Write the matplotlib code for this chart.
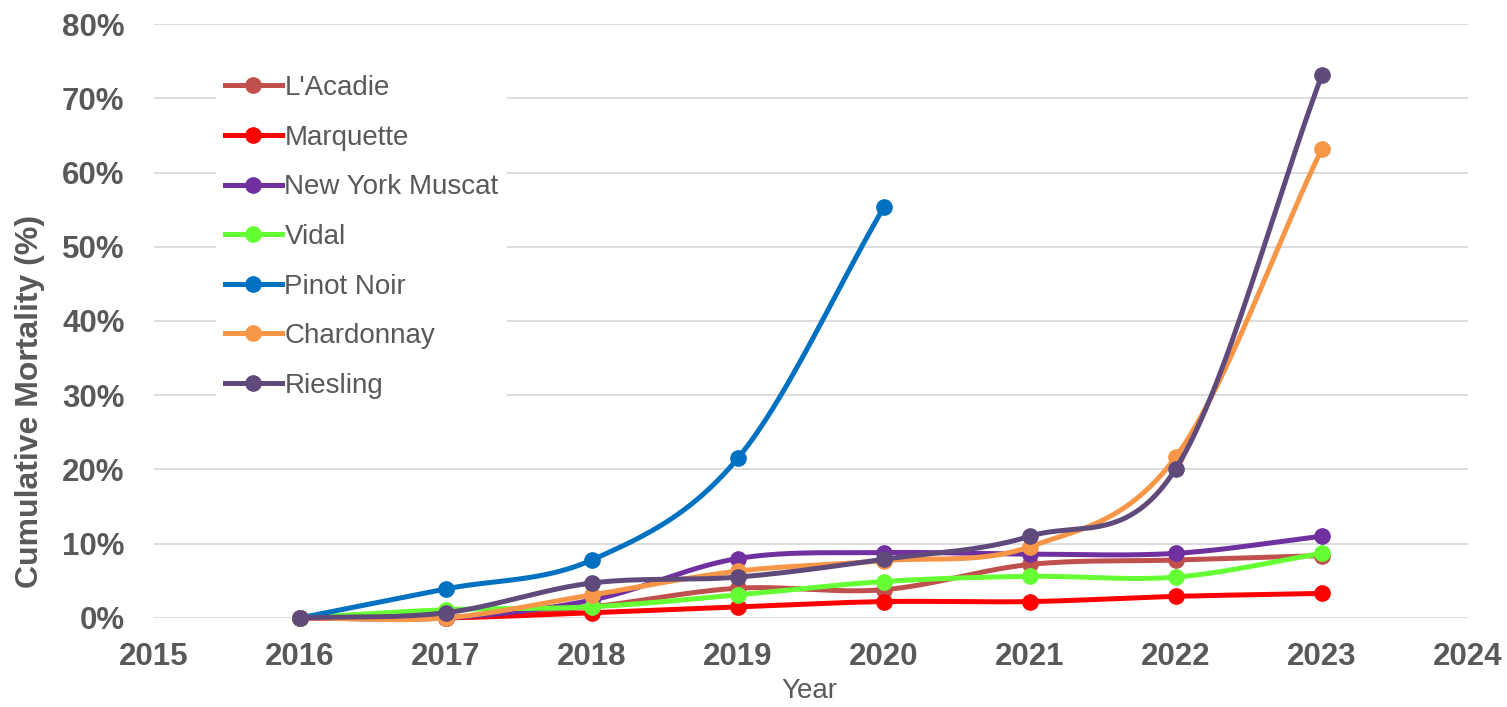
import numpy as np
import matplotlib.pyplot as plt
from matplotlib.ticker import FuncFormatter

plt.rcParams['font.family'] = ['Liberation Sans', 'DejaVu Sans']

years = [2016, 2017, 2018, 2019, 2020, 2021, 2022, 2023]

lacadie = [0.0, 0.0, 1.5, 4.0, 3.8, 7.2, 7.8, 8.4]
marquette = [0.0, 0.0, 0.7, 1.5, 2.2, 2.2, 2.9, 3.3]
ny_muscat = [0.0, 0.0, 2.4, 8.0, 8.8, 8.6, 8.7, 11.0]
vidal = [0.0, 1.1, 1.5, 3.1, 4.9, 5.6, 5.5, 8.7]
pinot_noir = [0.0, 3.9, 7.8, 21.5, 55.3]
chardonnay = [0.0, 0.0, 3.1, 6.3, 7.7, 9.6, 21.7, 63.2]
riesling = [0.0, 0.7, 4.7, 5.5, 7.9, 11.0, 20.1, 73.1]

series = [
    ("L'Acadie", lacadie, '#c0504d'),
    ('Marquette', marquette, '#ff0000'),
    ('New York Muscat', ny_muscat, '#7030a0'),
    ('Vidal', vidal, '#66ff33'),
    ('Pinot Noir', pinot_noir, '#0070c0'),
    ('Chardonnay', chardonnay, '#f79646'),
    ('Riesling', riesling, '#604a7b'),
]


def smooth(x, y, n=30):
    # Catmull-Rom style bezier through the points ("smoothed line")
    x = np.asarray(x, float)
    y = np.asarray(y, float)
    px = np.concatenate([[2 * x[0] - x[1]], x, [2 * x[-1] - x[-2]]])
    py = np.concatenate([[2 * y[0] - y[1]], y, [2 * y[-1] - y[-2]]])
    t = np.linspace(0, 1, n)
    xs, ys = [], []
    for i in range(1, len(px) - 2):
        for p, out in ((px, xs), (py, ys)):
            p0, p1, p2, p3 = p[i - 1], p[i], p[i + 1], p[i + 2]
            c1 = p1 + (p2 - p0) / 6
            c2 = p2 - (p3 - p1) / 6
            out.append((1 - t) ** 3 * p1 + 3 * (1 - t) ** 2 * t * c1
                       + 3 * (1 - t) * t ** 2 * c2 + t ** 3 * p2)
    return np.concatenate(xs), np.concatenate(ys)


fig, ax = plt.subplots(figsize=(15.07, 7.07), dpi=100)
fig.subplots_adjust(left=0.102, right=0.974, top=0.966, bottom=0.126)

for name, vals, color in series:
    xs = years[:len(vals)]
    sx, sy = smooth(xs, vals)
    ax.plot(sx, sy, color=color, lw=3.6, solid_capstyle='round', zorder=3,
            clip_on=False)
    ax.plot(xs, vals, 'o', color=color, ms=11, zorder=3, clip_on=False)
    ax.plot([], [], '-o', color=color, lw=3.6, ms=11, label=name)

ax.set_xlim(2015, 2024)
ax.set_ylim(0, 80)
ax.set_xticks(range(2015, 2025))
ax.set_yticks(range(0, 81, 10))
ax.yaxis.set_major_formatter(FuncFormatter(lambda v, p: f'{v:.0f}%'))
ax.grid(axis='y', color='#d9d9d9', lw=1.3, zorder=0)
for s in ax.spines.values():
    s.set_visible(False)
ax.tick_params(length=0, labelsize=22.5, labelcolor='#595959')
ax.tick_params(axis='x', pad=17)
ax.tick_params(axis='y', pad=21)
for lab in ax.get_xticklabels() + ax.get_yticklabels():
    lab.set_fontweight('bold')

ax.set_xlabel('Year', fontsize=20, color='#595959')
ax.xaxis.set_label_coords(0.499, -0.102)
ax.set_ylabel('Cumulative Mortality (%)', fontsize=23, fontweight='bold',
              color='#595959')
ax.yaxis.set_label_coords(-0.083, 0.364)

leg = ax.legend(loc='upper left', bbox_to_anchor=(0.0477, 0.928), frameon=True,
                fontsize=20, handlelength=2.05, handletextpad=0.1,
                labelspacing=0.85, borderpad=0.3, borderaxespad=0,
                framealpha=1)
leg.get_frame().set_edgecolor('none')
for t in leg.get_texts():
    t.set_color('#595959')

fig.savefig('out.png', dpi=100)
